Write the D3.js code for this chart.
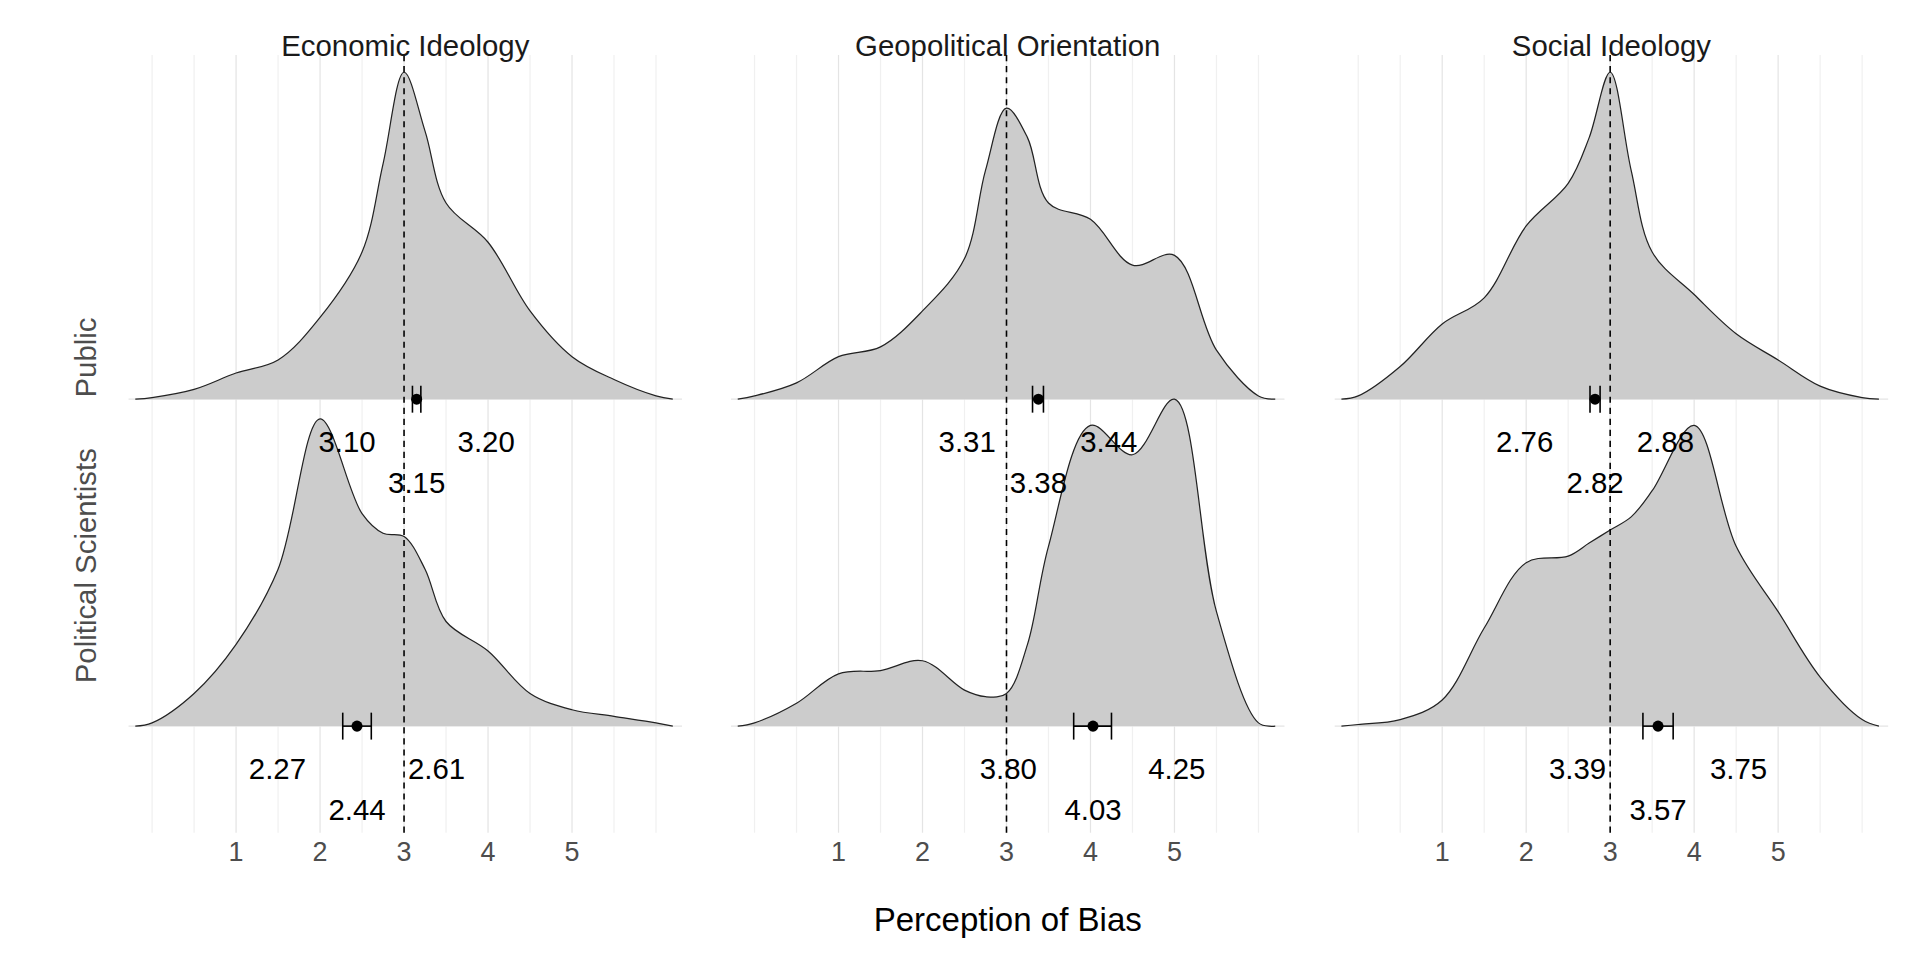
<!DOCTYPE html>
<html><head><meta charset="utf-8">
<script src="https://cdn.jsdelivr.net/npm/d3@7"></script>
<style>body{margin:0;background:#fff}text{font-family:Arial,"Liberation Sans",sans-serif}</style>
</head><body><svg id="c" width="1920" height="960"></svg>
<script>
const panels = ["Economic Ideology", "Geopolitical Orientation", "Social Ideology"];
const groups = ["Public", "Political Scientists"];
const xs = [-0.2, 0, 0.5, 1, 1.5, 2, 2.5, 2.75, 3, 3.25, 3.5, 4, 4.5, 5, 5.5, 6, 6.2];
// relative density heights per panel, per group
const pubEcon   = [0, 0.005, 0.03, 0.08, 0.12, 0.25, 0.45, 0.72, 1.0, 0.82, 0.6, 0.48, 0.27, 0.13, 0.06, 0.01, 0];
const pubGeo    = [0, 0.01, 0.05, 0.13, 0.16, 0.27, 0.43, 0.7, 0.89, 0.8, 0.6, 0.55, 0.41, 0.44, 0.15, 0.01, 0];
const pubSoc    = [0, 0.01, 0.1, 0.23, 0.31, 0.53, 0.66, 0.8, 1.0, 0.7, 0.45, 0.32, 0.2, 0.12, 0.04, 0.005, 0];
const polEcon   = [0, 0.01, 0.1, 0.25, 0.48, 0.94, 0.65, 0.59, 0.58, 0.48, 0.32, 0.23, 0.1, 0.05, 0.03, 0.01, 0];
const polGeo    = [0, 0.01, 0.07, 0.16, 0.17, 0.2, 0.11, 0.09, 0.1, 0.25, 0.55, 0.92, 0.83, 1.0, 0.35, 0.01, 0];
const polSoc    = [0, 0.005, 0.02, 0.08, 0.3, 0.5, 0.52, 0.56, 0.6, 0.64, 0.72, 0.92, 0.55, 0.35, 0.15, 0.02, 0];
const dens = [[pubEcon, polEcon], [pubGeo, polGeo], [pubSoc, polSoc]];
// mean, lower CI, upper CI
const pubStats = [[3.15, 3.10, 3.20], [3.38, 3.31, 3.44], [2.82, 2.76, 2.88]];
const polStats = [[2.44, 2.27, 2.61], [4.03, 3.80, 4.25], [3.57, 3.39, 3.75]];
const stats = [pubStats, polStats];
const ticks = [1, 2, 3, 4, 5];

const svg = d3.select("#c").append("g").attr("transform", `scale(${1920 / 1568})`);
const panelLeft = [105, 597, 1090], panelW = 452;
const baselines = [326, 593], unitH = 267;
const y = d3.scaleLinear().domain([0, 1]).range([0, unitH]);
const curve = d3.curveCatmullRom.alpha(0.5);

panels.forEach((name, p) => {
  const x = d3.scaleLinear().domain([-0.28, 6.31]).range([panelLeft[p], panelLeft[p] + panelW]);
  const g = svg.append("g");
  // grid
  d3.range(0, 6.01, 0.5).forEach(v => {
    g.append("line").attr("x1", x(v)).attr("x2", x(v)).attr("y1", 45).attr("y2", 680)
      .attr("stroke", Number.isInteger(v) && v >= 1 && v <= 5 ? "#e4e4e4" : "#f0f0f0").attr("stroke-width", 1);
  });
  baselines.forEach(b => g.append("line").attr("x1", panelLeft[p]).attr("x2", panelLeft[p] + panelW)
    .attr("y1", b).attr("y2", b).attr("stroke", "#e4e4e4").attr("stroke-width", 1));
  // densities
  groups.forEach((grp, r) => {
    const pts = xs.map((v, i) => [v, dens[p][r][i]]);
    const area = d3.area().curve(curve)
      .x(d => x(d[0])).y0(baselines[r]).y1(d => Math.min(baselines[r], baselines[r] - y(d[1])));
    const line = d3.line().curve(curve).x(d => x(d[0])).y(d => baselines[r] - y(d[1]));
    g.append("path").attr("d", area(pts)).attr("fill", "#cccccc");
    g.append("path").attr("d", line(pts)).attr("fill", "none").attr("stroke", "#222").attr("stroke-width", 1);
  });
  // dashed reference
  g.append("line").attr("x1", x(3)).attr("x2", x(3)).attr("y1", 45).attr("y2", 680)
    .attr("stroke", "#000").attr("stroke-width", 1.3).attr("stroke-dasharray", "5,4");
  // CI bars and labels
  groups.forEach((grp, r) => {
    const [m, lo, hi] = stats[r][p];
    const b = baselines[r];
    g.append("line").attr("x1", x(lo)).attr("x2", x(hi)).attr("y1", b).attr("y2", b).attr("stroke", "#000").attr("stroke-width", 1.3);
    [lo, hi].forEach(v => g.append("line").attr("x1", x(v)).attr("x2", x(v)).attr("y1", b - 11).attr("y2", b + 11).attr("stroke", "#000").attr("stroke-width", 1.3));
    g.append("circle").attr("cx", x(m)).attr("cy", b).attr("r", 4.5).attr("fill", "#000");
    const lab = (v, dx, dy, anchor) => g.append("text").attr("x", x(v) + dx).attr("y", b + dy)
      .attr("text-anchor", anchor).attr("font-size", 24).text(v.toFixed(2));
    lab(lo, -30, 43, "end");
    lab(hi, 30, 43, "start");
    lab(m, 0, 77, "middle");
  });
  // ticks & title
  ticks.forEach(t => g.append("text").attr("x", x(t)).attr("y", 703).attr("text-anchor", "middle")
    .attr("font-size", 22).attr("fill", "#4d4d4d").text(t));
  g.append("text").attr("x", panelLeft[p] + panelW / 2).attr("y", 46).attr("text-anchor", "middle")
    .attr("font-size", 24).attr("fill", "#1a1a1a").text(name);
});

// y labels
[["Public", 292], ["Political Scientists", 462]].forEach(([t, cy]) =>
  svg.append("text").attr("transform", `translate(78,${cy}) rotate(-90)`).attr("text-anchor", "middle")
    .attr("font-size", 24).attr("fill", "#4d4d4d").text(t));
svg.append("text").attr("x", 823).attr("y", 760).attr("text-anchor", "middle").attr("font-size", 27).text("Perception of Bias");
</script></body></html>
